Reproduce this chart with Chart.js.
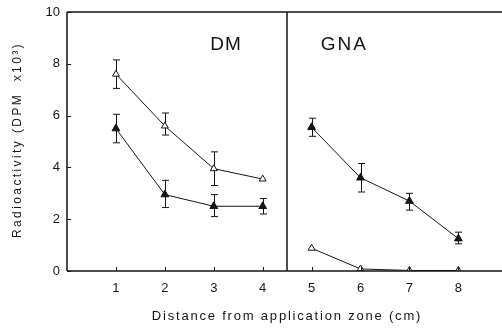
<!DOCTYPE html>
<html>
<head>
<meta charset="utf-8">
<script src="https://cdn.jsdelivr.net/npm/chart.js@4.4.1/dist/chart.umd.min.js"></script>
<style>
  html, body { margin: 0; padding: 0; background: #fff; }
  canvas { display: block; }
</style>
</head>
<body>
<canvas id="myChart" width="502" height="333"></canvas>
<script>
// distance from application zone (cm)
var xDM = [1, 2, 3, 4];
var xGNA = [5, 6, 7, 8];
var xTicks = [1, 2, 3, 4, 5, 6, 7, 8];
var yTicks = [0, 2, 4, 6, 8, 10];

// DM, open triangles
var dmOpen = [7.6, 5.6, 3.95, 3.55];
var dmOpenHi = [8.15, 6.1, 4.6, null];
var dmOpenLo = [7.05, 5.25, 3.3, null];
// DM, filled triangles
var dmFilled = [5.5, 2.95, 2.5, 2.5];
var dmFilledHi = [6.05, 3.5, 2.95, 2.8];
var dmFilledLo = [4.95, 2.45, 2.1, 2.2];
// GNA, filled triangles
var gnaFilled = [5.55, 3.6, 2.7, 1.25];
var gnaFilledHi = [5.9, 4.15, 3.0, 1.5];
var gnaFilledLo = [5.2, 3.05, 2.35, 1.05];
// GNA, open triangles
var gnaOpen = [0.88, 0.08, 0.02, 0.02];

var FONT = "'Liberation Sans', Arial, sans-serif";
var INK = "#151515";

function pts(xs, ys) {
  return xs.map(function (x, i) { return { x: x, y: ys[i] }; });
}

function series(xs, ys, hi, lo, filled) {
  return {
    data: pts(xs, ys),
    errHi: hi,
    errLo: lo,
    showLine: true,
    borderColor: INK,
    borderWidth: 1,
    tension: 0,
    pointStyle: "triangle",
    pointRadius: filled ? 4.5 : 4,
    pointBorderColor: INK,
    pointBorderWidth: 1,
    pointBackgroundColor: filled ? INK : "#fff",
  };
}

var frame = {
  id: "frame",
  beforeDatasetsDraw: function (chart) {
    var c = chart.ctx, xs = chart.scales.x, ys = chart.scales.y;
    c.save();
    c.strokeStyle = INK;
    c.lineWidth = 1;
    chart.data.datasets.forEach(function (ds) {
      if (!ds.errHi) return;
      ds.data.forEach(function (p, i) {
        if (ds.errHi[i] == null) return;
        var px = Math.round(xs.getPixelForValue(p.x)) + 0.5;
        var top = ys.getPixelForValue(ds.errHi[i]);
        var bot = ys.getPixelForValue(ds.errLo[i]);
        c.beginPath();
        c.moveTo(px, top); c.lineTo(px, bot);
        c.moveTo(px - 3.5, top); c.lineTo(px + 3.5, top);
        c.moveTo(px - 3.5, bot); c.lineTo(px + 3.5, bot);
        c.stroke();
      });
    });
    c.restore();
  },
  afterDraw: function (chart) {
    var c = chart.ctx, a = chart.chartArea, xs = chart.scales.x, ys = chart.scales.y;
    c.save();
    c.strokeStyle = INK;
    c.lineWidth = 1.5;
    var div = Math.round(xs.getPixelForValue(4.5));
    c.beginPath();
    c.moveTo(a.left, a.top); c.lineTo(chart.width, a.top);
    c.moveTo(a.left, a.top); c.lineTo(a.left, a.bottom);
    c.moveTo(a.left, a.bottom); c.lineTo(chart.width, a.bottom);
    c.moveTo(div, a.top); c.lineTo(div, a.bottom);
    c.stroke();
    // inside tick marks
    c.lineWidth = 1;
    c.beginPath();
    xTicks.forEach(function (v) {
      var px = Math.round(xs.getPixelForValue(v)) + 0.5;
      c.moveTo(px, a.bottom); c.lineTo(px, a.bottom - 4);
    });
    yTicks.forEach(function (v) {
      var py = Math.round(ys.getPixelForValue(v)) + 0.5;
      c.moveTo(a.left, py); c.lineTo(a.left + 4, py);
    });
    c.stroke();

    c.fillStyle = INK;
    c.textAlign = "center";
    c.textBaseline = "alphabetic";
    // panel labels
    c.font = "19px " + FONT;
    c.letterSpacing = "1px";
    c.fillText("DM", xs.getPixelForValue(3.25), ys.getPixelForValue(8.53));
    c.letterSpacing = "2px";
    c.fillText("GNA", xs.getPixelForValue(5.67), ys.getPixelForValue(8.53));
    // axis titles
    c.font = "13px " + FONT;
    c.letterSpacing = "1.8px";
    c.textBaseline = "middle";
    c.fillText("Distance from application zone (cm)", 287, 316);
    c.translate(18, 140);
    c.rotate(-Math.PI / 2);
    c.font = "12px " + FONT;
    c.letterSpacing = "2.4px";
    c.fillText("Radioactivity (DPM  x10\u00b3)", 0, 0);
    c.restore();
  }
};

var ctx = document.getElementById("myChart");
var config = {
  type: "scatter",
  data: {
    datasets: [
      series(xDM, dmOpen, dmOpenHi, dmOpenLo, false),
      series(xDM, dmFilled, dmFilledHi, dmFilledLo, true),
      series(xGNA, gnaFilled, gnaFilledHi, gnaFilledLo, true),
      series(xGNA, gnaOpen, null, null, false),
    ],
  },
  options: {
    responsive: false,
    animation: false,
    layout: { padding: { top: 12, right: 0, left: 0, bottom: 0 } },
    plugins: { legend: { display: false }, tooltip: { enabled: false } },
    scales: {
      x: {
        type: "linear",
        min: 0,
        max: 8.78,
        grid: { display: false, drawTicks: false },
        border: { display: false },
        afterBuildTicks: function (axis) {
          axis.ticks = xTicks.map(function (v) { return { value: v }; });
        },
        afterFit: function (axis) {
          axis.height = 62;
          axis.paddingLeft = 0;
          axis.paddingRight = 0;
        },
        ticks: { padding: 10, color: INK, font: { family: FONT, size: 13 } },
      },
      y: {
        min: 0,
        max: 10,
        grid: { display: false, drawTicks: false },
        border: { display: false },
        afterBuildTicks: function (axis) {
          axis.ticks = yTicks.map(function (v) { return { value: v }; });
        },
        afterFit: function (axis) {
          axis.width = 67;
          axis.paddingTop = 0;
          axis.paddingBottom = 0;
        },
        ticks: { padding: 7, color: INK, font: { family: FONT, size: 13 } },
      },
    },
  },
  plugins: [frame],
};

var myChart = new Chart(ctx, config);
</script>
</body>
</html>
